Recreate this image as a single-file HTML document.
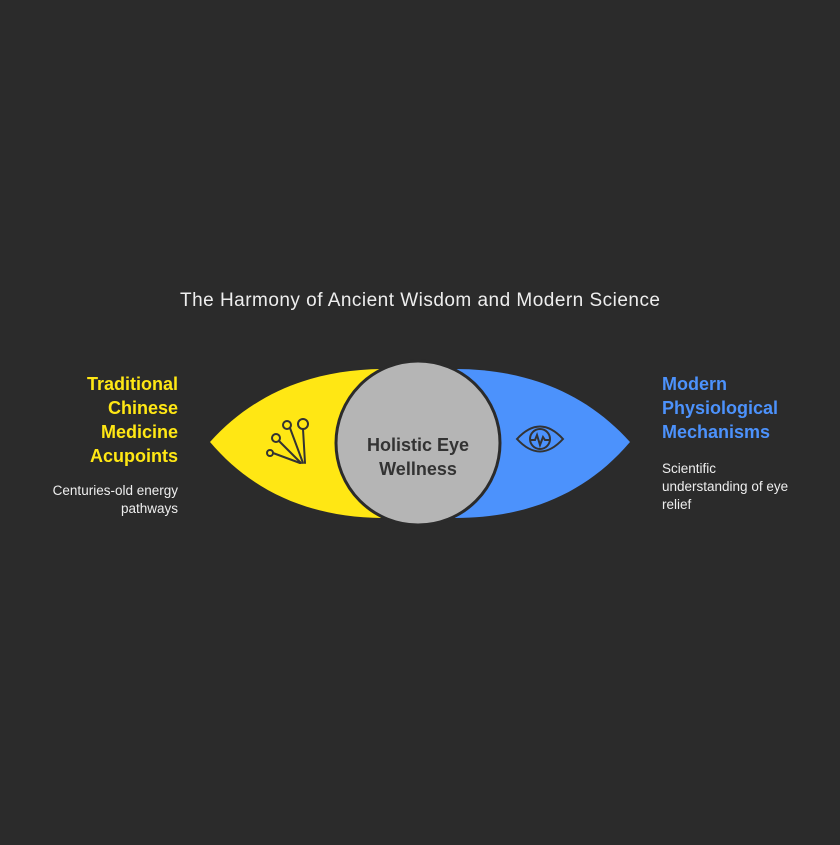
<!DOCTYPE html>
<html><head><meta charset="utf-8"><style>
body{margin:0;background:#2b2b2b;width:840px;height:840px;overflow:hidden;font-family:"Liberation Sans",sans-serif}
</style></head><body>
<svg width="840" height="840" viewBox="0 0 840 840" xmlns="http://www.w3.org/2000/svg">
<rect width="840" height="840" fill="#2b2b2b"/>
<text x="420" y="306" text-anchor="middle" fill="#eeeeee" font-size="19" textLength="480" font-family="Liberation Sans, sans-serif">The Harmony of Ancient Wisdom and Modern Science</text>
<path d="M210,442 C255,392 315,369 385,369 L385,518 C315,518 255,495 210,442 Z" fill="#ffe714"/>
<path d="M630,442 C585,392 525,369 455,369 L455,518 C525,518 585,495 630,442 Z" fill="#4c92fc"/>
<circle cx="418" cy="443" r="82" fill="#b5b5b5" stroke="#2b2b2b" stroke-width="3"/>
<text x="418" y="451" text-anchor="middle" fill="#333" font-size="18" font-weight="bold">Holistic Eye</text>
<text x="418" y="475" text-anchor="middle" fill="#333" font-size="18" font-weight="bold">Wellness</text>
<g fill="none" stroke="#333" stroke-width="2" stroke-linecap="round">
<circle cx="303" cy="424" r="5"/><circle cx="287" cy="425" r="4"/><circle cx="276" cy="438" r="4"/><circle cx="270" cy="453" r="3"/>
<path d="M303,429 L305,463"/><path d="M290,428 L303,463"/><path d="M279,441 L301,463"/><path d="M273,453 L300,463"/>
</g>
<g fill="none" stroke="#333" stroke-width="2">
<path d="M517,439 Q540,414 563,439 Q540,464 517,439 Z"/>
<circle cx="540" cy="439" r="10"/>
<path d="M531,440 L535,440 L537,435 L540,445 L543,437 L545,440 L549,440"/>
</g>
<g font-weight="bold" font-size="18" fill="#ffe714" text-anchor="end">
<text x="178" y="390">Traditional</text><text x="178" y="414">Chinese</text><text x="178" y="438">Medicine</text><text x="178" y="462">Acupoints</text>
</g>
<g font-size="13.5" fill="#eeeeee" text-anchor="end">
<text x="178" y="495">Centuries-old energy</text><text x="178" y="513">pathways</text>
</g>
<g font-weight="bold" font-size="18" fill="#4c92fc">
<text x="662" y="390">Modern</text><text x="662" y="414">Physiological</text><text x="662" y="438">Mechanisms</text>
</g>
<g font-size="13.5" fill="#eeeeee">
<text x="662" y="473">Scientific</text><text x="662" y="491">understanding of eye</text><text x="662" y="509">relief</text>
</g>
</svg>
</body></html>
